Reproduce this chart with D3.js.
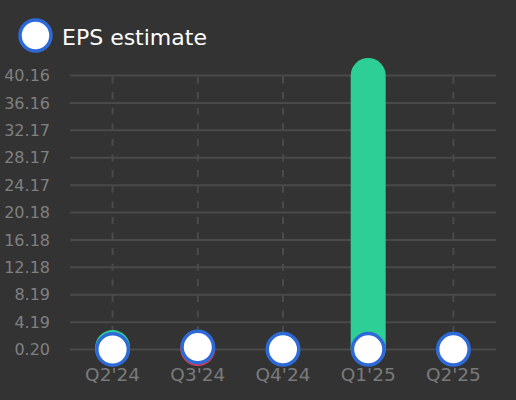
<!DOCTYPE html>
<html>
<head>
<meta charset="utf-8">
<script src="https://cdn.jsdelivr.net/npm/d3@7"></script>
<style>
    html, body { margin: 0; padding: 0; background: #333333; }
    #chart { width: 516px; height: 400px; }
    text { font-family: "DejaVu Sans", sans-serif; }
</style>
</head>
<body>
<div id="chart"></div>
<script>

// DATA
let quarters = ["Q2'24", "Q3'24", "Q4'24", "Q1'25", "Q2'25"];
let epsEstimate = [0.20, 0.56, 0.22, 0.22, 0.23];
let epsActual = [0.48, 0.20, null, 40.16, null];
let tickLabels = ["0.20", "4.19", "8.19", "12.18", "16.18", "20.18", "24.17", "28.17", "32.17", "36.16", "40.16"];

// CHART AREA
let width = 516, height = 400;
let margin = {top: 75.5, right: 20, bottom: 50.5, left: 70};

let svg = d3.select("#chart").append("svg")
    .attr("width", width)
    .attr("height", height);

svg.append("rect")
    .attr("width", width)
    .attr("height", height)
    .attr("fill", "#333333");

// SCALES
let yMin = +tickLabels[0], yMax = +tickLabels[tickLabels.length - 1];

let x = d3.scaleBand()
    .domain(quarters)
    .range([margin.left, width - margin.right]);

let y = d3.scaleLinear()
    .domain([yMin, yMax])
    .range([height - margin.bottom, margin.top]);

let xc = d => x(d) + x.bandwidth() / 2;

// GRID
svg.append("g")
    .selectAll("line")
    .data(tickLabels)
    .enter()
    .append("line")
    .attr("x1", margin.left)
    .attr("x2", width - margin.right)
    .attr("y1", d => y(+d))
    .attr("y2", d => y(+d))
    .attr("stroke", "#4a4a4a")
    .attr("stroke-width", 2);

svg.append("g")
    .selectAll("line")
    .data(quarters)
    .enter()
    .append("line")
    .attr("x1", d => xc(d))
    .attr("x2", d => xc(d))
    .attr("y1", y(yMax) + 1)
    .attr("y2", y(yMin))
    .attr("stroke", "#4a4a4a")
    .attr("stroke-width", 2)
    .attr("stroke-dasharray", "7,8.6");

// AXIS LABELS
let yAxis = d3.axisLeft(y)
    .tickValues(tickLabels.map(d => +d))
    .tickFormat((d, i) => tickLabels[i])
    .tickSize(0)
    .tickPadding(20);

let yAxisGroup = svg.append("g")
    .attr("class", "y-axis axis")
    .attr("transform", "translate(" + margin.left + ",0)")
    .call(yAxis);

yAxisGroup.select(".domain").remove();
yAxisGroup.selectAll("text")
    .attr("fill", "#808080")
    .style("font-size", "16px")
    .style("font-family", "DejaVu Sans");

let xAxis = d3.axisBottom(x)
    .tickSize(0)
    .tickPadding(18);

let xAxisGroup = svg.append("g")
    .attr("class", "x-axis axis")
    .attr("transform", "translate(0," + y(yMin) + ")")
    .call(xAxis);

xAxisGroup.select(".domain").remove();
xAxisGroup.selectAll("text")
    .attr("fill", "#7a7a7a")
    .style("font-size", "18.5px")
    .style("font-family", "DejaVu Sans");

// ACTUAL BARS (capsules)
let r = 17.5;
let actualData = quarters.map((q, i) => ({q: q, actual: epsActual[i], est: epsEstimate[i]}))
    .filter(d => d.actual !== null);

svg.append("g")
    .selectAll("rect")
    .data(actualData)
    .enter()
    .append("rect")
    .attr("x", d => xc(d.q) - r)
    .attr("y", d => y(d.actual) - r)
    .attr("width", r * 2)
    .attr("height", d => Math.max(y(yMin) - y(d.actual), 0) + r * 2 - 1)
    .attr("rx", r)
    .attr("fill", d => d.actual >= d.est ? "#2ecf97" : "#e0394f");

// ESTIMATE DOTS
svg.append("g")
    .selectAll("circle")
    .data(quarters)
    .enter()
    .append("circle")
    .attr("cx", d => xc(d))
    .attr("cy", (d, i) => y(epsEstimate[i]))
    .attr("r", 15.75)
    .attr("fill", "#ffffff")
    .attr("stroke", "#2d6ad8")
    .attr("stroke-width", 3.5);

// LEGEND
let legend = svg.append("g")
    .attr("transform", "translate(35.5,35.5)");

legend.append("circle")
    .attr("r", 15.5)
    .attr("fill", "#ffffff")
    .attr("stroke", "#2d6ad8")
    .attr("stroke-width", 3.5);

legend.append("text")
    .attr("x", 26.5)
    .attr("y", 9.5)
    .attr("fill", "#ffffff")
    .style("font-size", "22px")
    .text("EPS estimate");

</script>
</body>
</html>
